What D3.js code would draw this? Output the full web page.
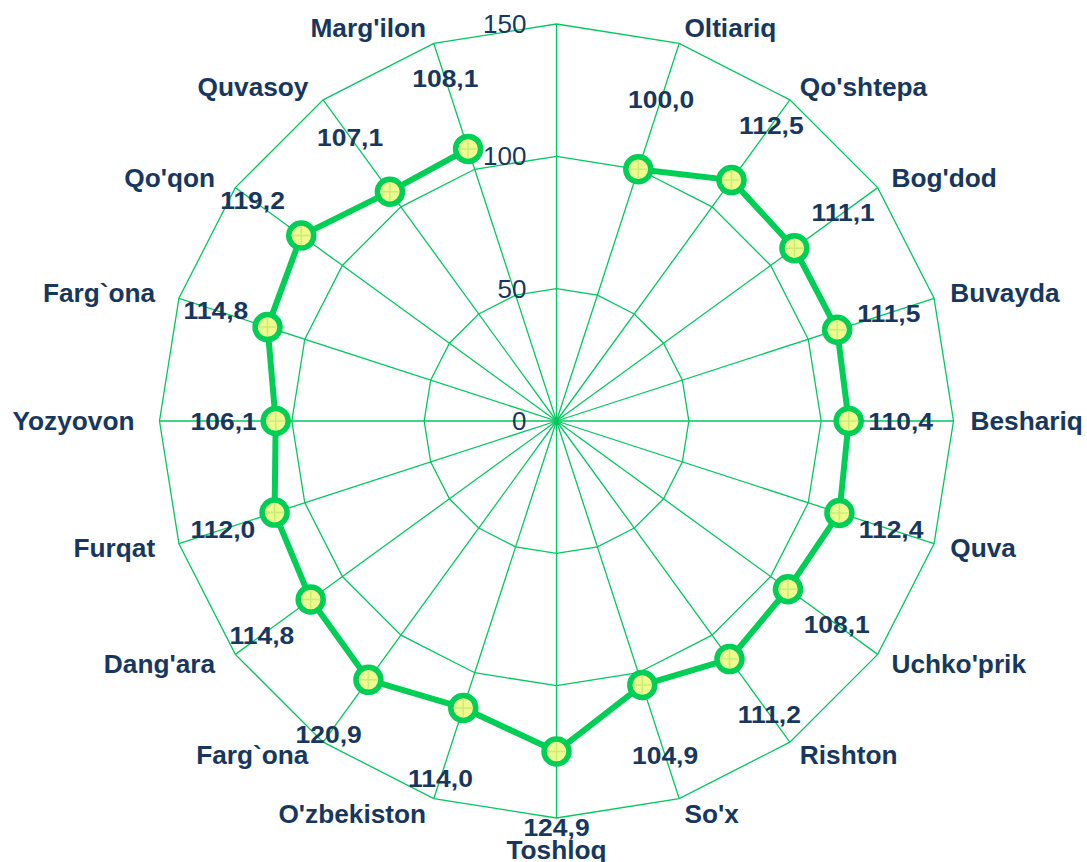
<!DOCTYPE html>
<html><head><meta charset="utf-8">
<script src="https://cdn.jsdelivr.net/npm/d3@7"></script>
<style>html,body{margin:0;padding:0;background:#fff}svg{display:block}</style>
</head><body>
<svg id="chart" width="1087" height="862"></svg>
<script>
const categories = ["", "Oltiariq", "Qo'shtepa", "Bog'dod", "Buvayda", "Beshariq", "Quva", "Uchko'prik", "Rishton", "So'x", "Toshloq", "O'zbekiston", "Farg`ona", "Dang'ara", "Furqat", "Yozyovon", "Farg`ona", "Qo'qon", "Quvasoy", "Marg'ilon"];
const values = [null, 100.0, 112.5, 111.1, 111.5, 110.4, 112.4, 108.1, 111.2, 104.9, 124.9, 114.0, 120.9, 114.8, 112.0, 106.1, 114.8, 119.2, 107.1, 108.1];
const tickValues = [0, 50, 100, 150];
const gridLevels = [50, 100, 150];

const W = 1087, H = 862, cx = 556.5, cy = 421;
const n = categories.length;
const gridColor = "#00C95E", seriesColor = "#00CF55", textColor = "#17375E";
const font = "'Liberation Sans', Arial, sans-serif";

const svg = d3.select("#chart");
const angle = d3.scaleLinear().domain([0, n]).range([0, 2 * Math.PI]);
const r = d3.scaleLinear().domain([0, 150]).range([0, 397]);
const px = (i, v) => cx + r(v) * Math.sin(angle(i));
const py = (i, v) => cy - r(v) * Math.cos(angle(i));
const idx = d3.range(n);

const g = svg.append("g");
// grid polygons
g.selectAll("polygon.grid").data(gridLevels).join("polygon")
  .attr("points", lv => idx.map(i => [px(i, lv), py(i, lv)].join(",")).join(" "))
  .attr("fill", "none").attr("stroke", gridColor).attr("stroke-width", 1.3);
// spokes
g.selectAll("line.spoke").data(idx).join("line")
  .attr("x1", cx).attr("y1", cy)
  .attr("x2", i => px(i, 150)).attr("y2", i => py(i, 150))
  .attr("stroke", gridColor).attr("stroke-width", 1.3);

// tick labels
g.selectAll("text.tick").data(tickValues).join("text")
  .attr("x", cx - 30).attr("y", t => cy - r(t))
  .attr("text-anchor", "end").attr("dominant-baseline", "central")
  .attr("font-family", font).attr("font-size", 26).attr("fill", textColor)
  .text(t => t);

// series line (open, gap at empty category)
const pts = idx.map(i => ({i, v: values[i]}));
const line = d3.line()
  .defined(d => d.v != null)
  .x(d => px(d.i, d.v)).y(d => py(d.i, d.v));
g.append("path").datum(pts).attr("d", line)
  .attr("fill", "none").attr("stroke", seriesColor).attr("stroke-width", 6)
  .attr("stroke-linejoin", "round");

// markers
const mk = g.selectAll("g.mk").data(pts.filter(d => d.v != null)).join("g")
  .attr("transform", d => `translate(${px(d.i, d.v)},${py(d.i, d.v)})`);
mk.append("circle").attr("r", 12.5).attr("fill", "#EEF98E")
  .attr("stroke", seriesColor).attr("stroke-width", 5.5);
mk.append("path").attr("d", "M-9,0H9M0,-9V9")
  .attr("stroke", "#C9EE78").attr("stroke-width", 1.5);

// value labels
const fmt = v => d3.format(".1f")(v).replace(".", ",");
const labOff = a => 52 + 24 * Math.cos(a) * Math.cos(a);
g.selectAll("text.val").data(pts.filter(d => d.v != null)).join("text")
  .attr("transform", d => {
    const a = angle(d.i), rr = r(d.v) + labOff(a);
    return `translate(${cx + rr * Math.sin(a)},${cy - rr * Math.cos(a)}) scale(1.08,1)`;
  })
  .attr("text-anchor", "middle").attr("dominant-baseline", "central")
  .attr("font-family", font).attr("font-weight", "bold").attr("font-size", 24.5)
  .attr("fill", textColor).text(d => fmt(d.v));

// category labels
g.selectAll("text.cat").data(idx.filter(i => categories[i] !== "")).join("text")
  .each(function(i) {
    const a = angle(i), s = Math.sin(a), c = Math.cos(a);
    const vx = px(i, 150), vy = py(i, 150);
    let anchor = "middle", x = vx, y = vy - c * 16;
    if (s > 0.01) { anchor = "start"; x = vx + s * 17; }
    else if (s < -0.01) { anchor = "end"; x = vx + s * 25; }
    else { y = vy - c * 32; }
    d3.select(this).attr("transform", `translate(${x},${y}) scale(1.05,1)`).attr("text-anchor", anchor);
  })
  .attr("dominant-baseline", "central")
  .attr("font-family", font).attr("font-weight", "bold").attr("font-size", 25)
  .attr("fill", textColor).text(i => categories[i]);
</script>
</body></html>
